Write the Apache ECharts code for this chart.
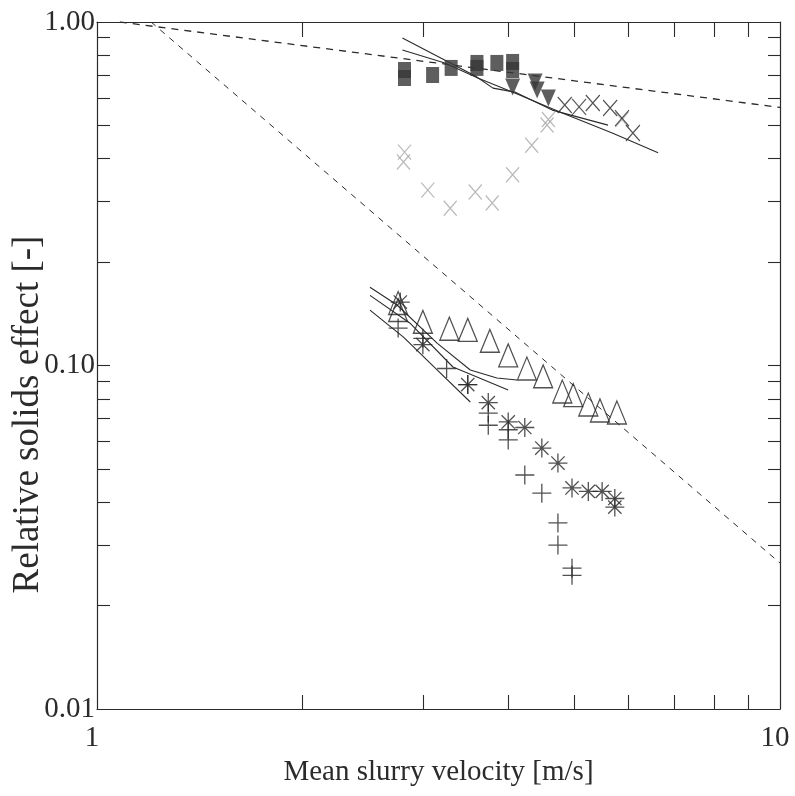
<!DOCTYPE html>
<html>
<head>
<meta charset="utf-8">
<script src="https://cdn.jsdelivr.net/npm/echarts@6/dist/echarts.min.js"></script>
<style>
	html, body { margin: 0; background: #fff; }
	#chart { width: 795px; height: 796px; }
</style>
</head>
<body>
<div id="chart"></div>
<script>
// tick positions (log axes, minor ticks at 2..9 of each decade)
var xTicks = [2, 3, 4, 5, 6, 7, 8, 9];
var xLabels = [1, 10];
var yTicks = [0.02, 0.03, 0.04, 0.05, 0.06, 0.07, 0.08, 0.09, 0.1, 0.2, 0.3, 0.4, 0.5, 0.6, 0.7, 0.8, 0.9];
var yLabels = [0.01, 0.1, 1];

// upper group: velocity [m/s], relative solids effect [-]
var squares = [[2.82, 0.725], [2.82, 0.687], [3.10, 0.701], [3.30, 0.735], [3.60, 0.760], [3.60, 0.735], [3.85, 0.760], [4.06, 0.765], [4.06, 0.725]];
var triDown = [[4.06, 0.647], [4.38, 0.669], [4.41, 0.634], [4.58, 0.601]];
var crossDark = [[4.84, 0.573], [5.08, 0.566], [5.32, 0.581], [5.64, 0.562], [5.87, 0.525], [6.09, 0.475]];
var crossGrey = [[2.82, 0.418], [2.81, 0.391], [3.05, 0.324], [3.29, 0.287], [3.58, 0.320], [3.79, 0.297], [4.06, 0.359], [4.33, 0.438], [4.56, 0.501], [4.58, 0.520], [5.87, 0.520]];
var fitUpperA = [[2.80, 0.898], [3.27, 0.765], [3.58, 0.696], [3.80, 0.642], [4.09, 0.625], [4.64, 0.554], [5.60, 0.501]];
var fitUpperB = [[2.80, 0.829], [3.23, 0.760], [3.61, 0.687], [4.09, 0.621], [4.80, 0.543], [5.68, 0.475], [6.63, 0.416]];

// lower group
var triOpen = [[2.76, 0.152], [2.76, 0.145], [3.00, 0.134], [3.28, 0.128], [3.49, 0.127], [3.76, 0.118], [4.00, 0.107], [4.26, 0.098], [4.50, 0.093], [4.80, 0.084], [4.98, 0.082], [5.24, 0.077], [5.45, 0.074], [5.77, 0.073]];
var stars = [[2.78, 0.153], [3.00, 0.115], [3.49, 0.088], [3.74, 0.078], [4.00, 0.0685], [4.23, 0.066], [4.48, 0.0575], [4.73, 0.052], [4.96, 0.044], [5.24, 0.043], [5.49, 0.043], [5.73, 0.041], [5.73, 0.0387]];
var pluses = [[2.76, 0.1285], [3.00, 0.120], [3.25, 0.098], [3.49, 0.088], [3.74, 0.0727], [3.74, 0.067], [4.00, 0.065], [4.00, 0.0607], [4.23, 0.048], [4.48, 0.0425], [4.73, 0.0348], [4.73, 0.030], [4.96, 0.0257], [4.96, 0.0245]];
var fitLower1 = [[2.51, 0.169], [2.75, 0.150], [3.15, 0.116], [3.52, 0.097], [3.85, 0.092], [4.12, 0.0907]];
var fitLower2 = [[2.51, 0.160], [2.87, 0.133], [3.32, 0.099], [4.00, 0.0849]];
var fitLower3 = [[2.51, 0.145], [2.81, 0.121], [3.15, 0.097], [3.52, 0.0783]];

// dashed reference lines
var dashUpper = [[1.08, 1.0], [10, 0.564]];
var dashLower = [[1.2, 1.0], [10, 0.0266]];

var serif = '"Liberation Serif", "DejaVu Serif", serif';
var ink = '#2b2b2b';
var symX = 'path://M0,0L10,10M0,10L10,0';
var symPlus = 'path://M5,0L5,10M0,5L10,5';
var symStar = 'path://M5,0L5,10M0,5L10,5M1.5,1.5L8.5,8.5M1.5,8.5L8.5,1.5';

function lineSeries(data, dashed, width) {
	return {
		type: 'line',
		data: data,
		symbol: 'none',
		silent: true,
		z: 1,
		lineStyle: { color: ink, width: width || 1.1, type: dashed || 'solid' }
	};
}

function markSeries(data, symbol, size, style, rotate) {
	return {
		type: 'scatter',
		data: data,
		symbol: symbol,
		symbolSize: size,
		symbolRotate: rotate || 0,
		symbolKeepAspect: false,
		silent: true,
		z: 3,
		itemStyle: style
	};
}

function axisBase(pos) {
	return {
		position: pos,
		nameMoveOverlap: false,
		axisLine: { show: true, onZero: false, lineStyle: { color: ink, width: 1.2 } },
		splitLine: { show: false },
		minorTick: { show: false }
	};
}

var chart = echarts.init(document.getElementById('chart'));

var xBottom = axisBase('bottom');
xBottom.type = 'log';
xBottom.logBase = 10;
xBottom.min = 1;
xBottom.max = 10;
xBottom.axisTick = { show: true, inside: true, length: 14, customValues: xTicks, lineStyle: { color: ink, width: 1.1 } };
xBottom.axisLabel = {
	show: true, customValues: xLabels, margin: 15,
	fontFamily: serif, fontSize: 29, color: ink,
	padding: [0, 10, 0, 0],
	formatter: function (v) { return String(Math.round(v)); }
};
xBottom.name = 'Mean slurry velocity [m/s]';
xBottom.nameLocation = 'middle';
xBottom.nameGap = 49;
xBottom.nameTextStyle = { fontFamily: serif, fontSize: 29, color: ink };

var xTop = axisBase('top');
xTop.type = 'log';
xTop.logBase = 10;
xTop.min = 1;
xTop.max = 10;
xTop.axisTick = { show: true, inside: true, length: 15, customValues: xTicks, lineStyle: { color: ink, width: 1.1 } };
xTop.axisLabel = { show: false };

var yLeft = axisBase('left');
yLeft.type = 'log';
yLeft.logBase = 10;
yLeft.min = 0.01;
yLeft.max = 1;
yLeft.axisTick = { show: true, inside: true, length: 13, customValues: yTicks, lineStyle: { color: ink, width: 1.1 } };
yLeft.axisLabel = {
	show: true, customValues: yLabels, margin: 2,
	fontFamily: serif, fontSize: 29, color: ink,
	formatter: function (v) { return v.toFixed(2); }
};
yLeft.name = 'Relative solids effect [-]';
yLeft.nameLocation = 'middle';
yLeft.nameGap = 50;
yLeft.nameRotate = 90;
yLeft.nameTextStyle = { fontFamily: serif, fontSize: 37, color: ink, padding: [0, 98, 0, 0] };

var yRight = axisBase('right');
yRight.type = 'log';
yRight.logBase = 10;
yRight.min = 0.01;
yRight.max = 1;
yRight.axisTick = { show: true, inside: true, length: 12, customValues: yTicks, lineStyle: { color: ink, width: 1.1 } };
yRight.axisLabel = { show: false };

var option = {
	animation: false,
	backgroundColor: '#fff',
	grid: { left: 97, right: 15, top: 22, bottom: 87, containLabel: false, outerBoundsMode: 'none' },
	xAxis: [xBottom, xTop],
	yAxis: [yLeft, yRight],
	series: [
		lineSeries(dashUpper, [7, 6], 1.3),
		lineSeries(dashLower, [6, 6], 1),
		lineSeries(fitUpperA),
		lineSeries(fitUpperB),
		lineSeries(fitLower1),
		lineSeries(fitLower2),
		lineSeries(fitLower3),
		markSeries(squares, 'rect', [13, 16], { color: '#363636' }),
		markSeries(triDown, 'triangle', [15, 17], { color: '#363636' }, 180),
		markSeries(crossGrey, symX, [13, 15], { color: 'transparent', borderColor: '#a8a8a8', borderWidth: 1.3 }),
		markSeries(crossDark, symX, [14, 16], { color: 'transparent', borderColor: '#262626', borderWidth: 1.2 }),
		markSeries(triOpen, 'triangle', [19, 23], { color: 'transparent', borderColor: '#262626', borderWidth: 1.3 }),
		markSeries(stars, symStar, [19, 19], { color: 'transparent', borderColor: '#262626', borderWidth: 1.3 }),
		markSeries(pluses, symPlus, [19, 19], { color: 'transparent', borderColor: '#262626', borderWidth: 1.3 })
	]
};

chart.setOption(option);
</script>
</body>
</html>
